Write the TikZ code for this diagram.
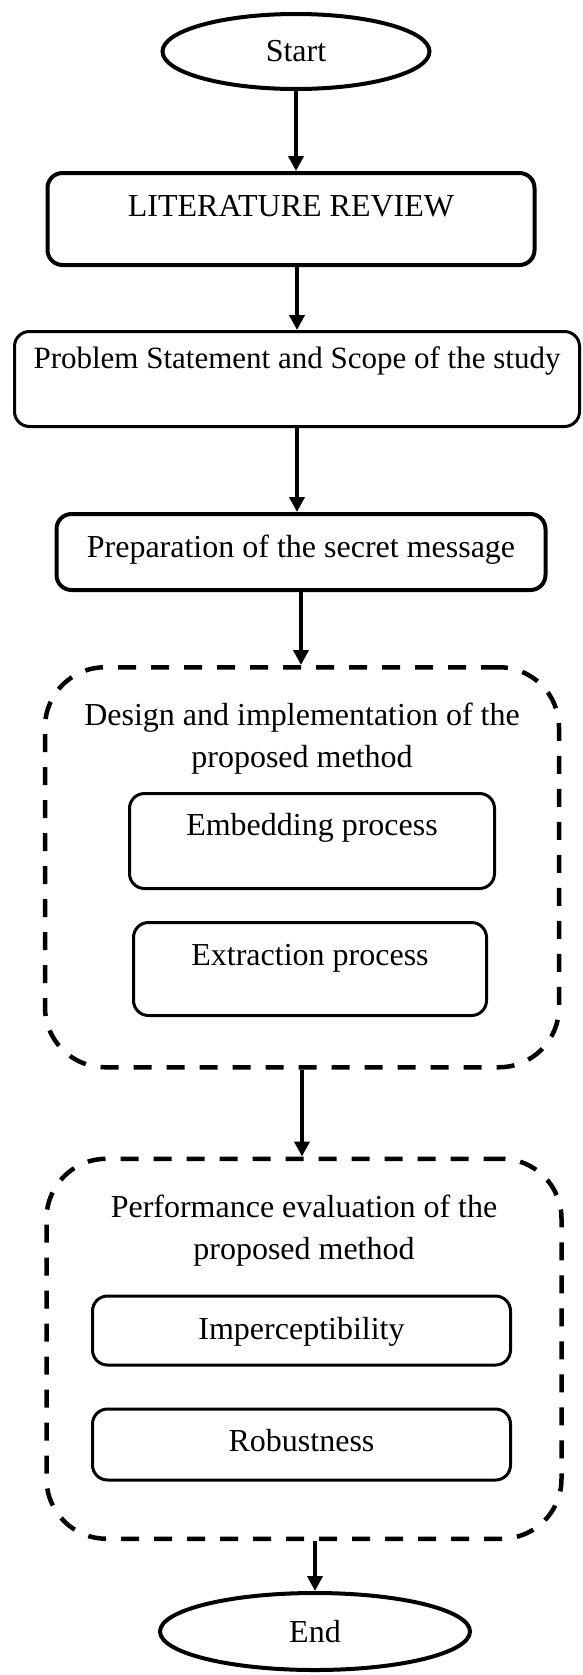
\documentclass[tikz,border=0pt]{standalone}
\usepackage{fontspec}
\setmainfont{Liberation Serif}
\usetikzlibrary{arrows.meta, positioning, shapes}

\begin{document}
\begin{tikzpicture}[node distance=60pt, font=\fontsize{32}{42}\selectfont]
        \tikzstyle{startstop} = [ellipse, draw, line width=4pt, inner sep=0pt]
        \tikzstyle{process} = [rectangle, rounded corners=15pt, draw, line width=4pt, text height=22pt, inner sep=0pt, text centered]
        \tikzstyle{subprocess} = [process, line width=3pt]
        \tikzstyle{group} = [rectangle, rounded corners=60pt, draw, line width=4.5pt, dash pattern=on 18pt off 15pt]
        \tikzstyle{heading} = [align=center, inner sep=0pt]
        \tikzstyle{arrow} = [line width=4.5pt, -{Triangle[length=15pt, width=15pt]}]

        \useasboundingbox (0,0) rectangle (582pt,-1675pt);

        % Nodes
        \node (start) [startstop, minimum width=267pt, minimum height=75pt] at (296pt,-51.5pt) {Start};
        \node (lit) [process, below=80pt of start, xshift=-5pt, minimum width=487pt, minimum height=92pt, text depth=28pt] {LITERATURE REVIEW};
        \node (prob) [subprocess, below=63pt of lit, xshift=6pt, minimum width=565pt, minimum height=95pt, text depth=44pt, font=\fontsize{31}{40}\selectfont] {Problem Statement and Scope of the study};
        \node (prep) [process, below=84pt of prob, xshift=4pt, minimum width=489pt, minimum height=76pt, text depth=12pt] {Preparation of the secret message};

        % Design block
        \node (design) [group, below=73pt of prep, xshift=1pt, minimum width=514pt, minimum height=400pt] {};
        \node (designtitle) [heading, below=38pt of design.north] {Design and implementation of the\\proposed method};
        \node (embed) [subprocess, below=127pt of design.north, xshift=10pt, minimum width=365pt, minimum height=95pt, text depth=34pt] {Embedding process};
        \node (extract) [subprocess, below=31pt of embed, xshift=-2pt, minimum width=353pt, minimum height=93pt, text depth=30pt] {Extraction process};

        % Evaluation block
        \node (perf) [group, below=87pt of design, xshift=2pt, minimum width=515pt, minimum height=380pt] {};
        \node (perftitle) [heading, below=38pt of perf.north] {Performance evaluation of the\\proposed method};
        \node (imperc) [subprocess, below=138pt of perf.north, xshift=-2.5pt, minimum width=418pt, minimum height=69pt, text depth=4pt] {Imperceptibility};
        \node (robust) [subprocess, below=41pt of imperc, minimum width=418pt, minimum height=71pt, text depth=8pt] {Robustness};

        \node (finish) [startstop, below=50pt of perf, xshift=11pt, minimum width=310pt, minimum height=77pt] {End};

        % Arrows
        \draw [arrow] (start) -- (start |- lit.north);
        \draw [arrow] (prob |- lit.south) -- (prob);
        \draw [arrow] (prob) -- (prob |- prep.north);
        \draw [arrow] (prep) -- (prep |- design.north);
        \draw [arrow] (design) -- (design |- perf.north);
        \draw [arrow] (finish |- perf.south) -- (finish);
    \end{tikzpicture}
\end{document}
